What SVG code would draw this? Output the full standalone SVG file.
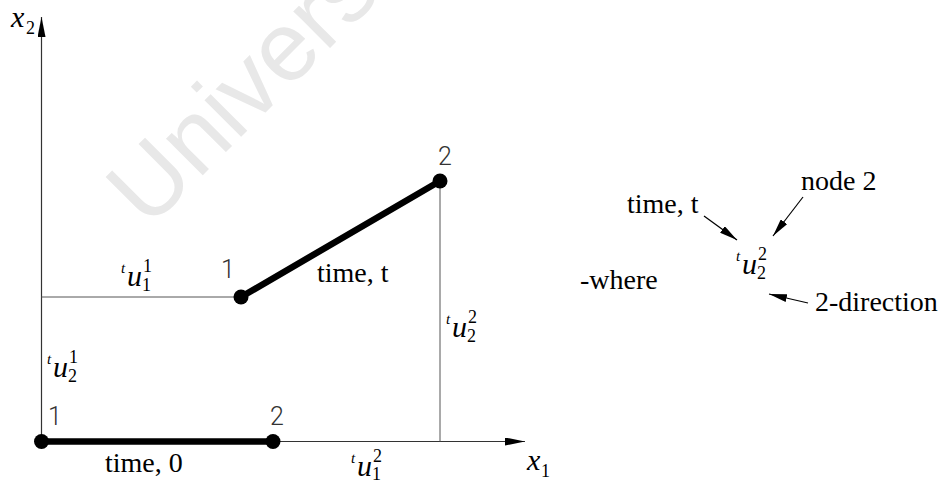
<svg xmlns="http://www.w3.org/2000/svg" width="945" height="484" viewBox="0 0 945 484">
<defs>
<style>
.ax{stroke:#333;stroke-width:1.2;fill:none}
.thin{stroke:#555;stroke-width:1;fill:none}
.bar{stroke:#000;stroke-width:6.5;stroke-linecap:round;fill:none}
.nd{fill:#000}
.tx{font-family:"Liberation Serif","Times New Roman",serif;font-size:28px;fill:#000}
.it{font-family:"Liberation Serif","Times New Roman",serif;font-style:italic;fill:#000}
.mu{font-size:30px}
.ms{font-family:"Liberation Serif","Times New Roman",serif;font-size:18px;fill:#000}
.mt{font-size:15px}
.cad{font-family:"Roboto","DejaVu Sans",sans-serif;font-weight:300;font-size:25px;fill:#333}
.wm{font-family:"Liberation Sans",Arial,sans-serif;font-size:98px;fill:#e8e8e8}
.lead{stroke:#000;stroke-width:1.2;fill:none}
</style>
<marker id="ah" viewBox="0 0 20 8" refX="20" refY="4" markerWidth="20" markerHeight="8" markerUnits="userSpaceOnUse" orient="auto">
<path d="M0,0 L20,4 L0,8 z" fill="#000"/>
</marker>
<marker id="lh" viewBox="0 0 18 8" refX="18" refY="4" markerWidth="18" markerHeight="8" markerUnits="userSpaceOnUse" orient="auto">
<path d="M0,0 L18,4 L0,8 z" fill="#000"/>
</marker>
</defs>
<rect width="945" height="484" fill="#fff"/>
<text class="wm" transform="translate(148,230) rotate(-45)">Universi</text>
<g id="connectors">
<line class="ax" x1="41.5" y1="441.5" x2="41.5" y2="17" marker-end="url(#ah)"/>
<line class="ax" x1="41.5" y1="441.5" x2="525" y2="441.5" marker-end="url(#ah)"/>
<line class="thin" x1="41.5" y1="297" x2="241" y2="297"/>
<line class="thin" x1="440" y1="181" x2="440" y2="441.5"/>
<line class="lead" x1="704" y1="216" x2="737" y2="240" marker-end="url(#lh)"/>
<line class="lead" x1="803" y1="197" x2="773" y2="236" marker-end="url(#lh)"/>
<line class="lead" x1="808" y1="303" x2="769" y2="294" marker-end="url(#lh)"/>
</g>
<g id="element-time0">
<line class="bar" x1="41.5" y1="441.5" x2="273" y2="441.5"/>
<circle class="nd" cx="41.5" cy="441.5" r="7.5"/>
<circle class="nd" cx="273" cy="441.5" r="7.5"/>
<text class="cad" x="48" y="425">1</text>
<text class="cad" x="270" y="425">2</text>
<text class="tx" x="105" y="472">time, 0</text>
</g>
<g id="element-timet">
<line class="bar" x1="241" y1="297" x2="440" y2="181"/>
<circle class="nd" cx="241" cy="297" r="7.5"/>
<circle class="nd" cx="440" cy="181" r="7.5"/>
<text class="cad" x="221" y="278">1</text>
<text class="cad" x="438" y="165">2</text>
<text class="tx" x="317" y="282">time, t</text>
</g>
<g id="axis-labels">
<text class="it mu" x="11" y="27">x</text><text class="ms" x="26" y="34">2</text>
<text class="it mu" x="527" y="470">x</text><text class="ms" x="541" y="477">1</text>
</g>
<g id="u11" transform="translate(127,286)">
<text class="it mt" x="-6" y="-13">t</text><text class="it mu" x="0" y="0">u</text><text class="ms" x="15" y="5">1</text><text class="ms" x="16" y="-14">1</text>
</g>
<g id="u21" transform="translate(53,377)">
<text class="it mt" x="-6" y="-13">t</text><text class="it mu" x="0" y="0">u</text><text class="ms" x="15" y="5">2</text><text class="ms" x="16" y="-14">1</text>
</g>
<g id="u22" transform="translate(452,337)">
<text class="it mt" x="-6" y="-13">t</text><text class="it mu" x="0" y="0">u</text><text class="ms" x="15" y="5">2</text><text class="ms" x="16" y="-14">2</text>
</g>
<g id="u12" transform="translate(357,476)">
<text class="it mt" x="-6" y="-13">t</text><text class="it mu" x="0" y="0">u</text><text class="ms" x="15" y="4">1</text><text class="ms" x="16" y="-14">2</text>
</g>
<g id="legend">
<text class="tx" x="580" y="289">-where</text>
<text class="tx" x="627" y="213">time, t</text>
<text class="tx" x="801" y="190">node 2</text>
<text class="tx" x="815" y="311">2-direction</text>
<g id="u22-legend" transform="translate(742,274)">
<text class="it mt" x="-6" y="-13">t</text><text class="it mu" x="0" y="0">u</text><text class="ms" x="15" y="5">2</text><text class="ms" x="16" y="-14">2</text>
</g>
</g>
</svg>
